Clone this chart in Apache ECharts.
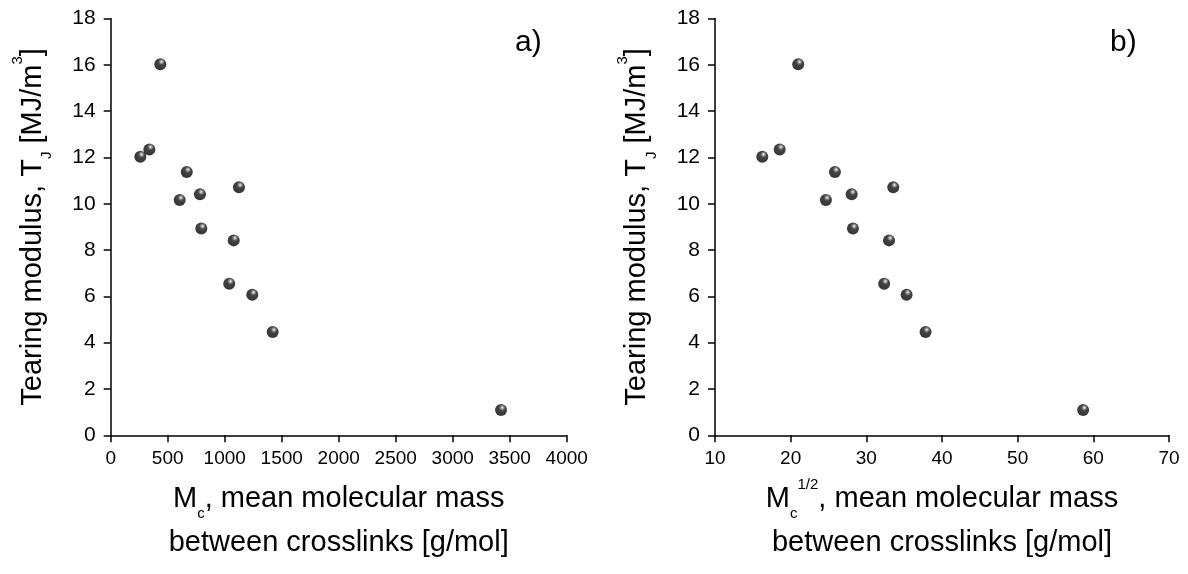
<!DOCTYPE html>
<html>
<head>
<meta charset="utf-8">
<script src="https://cdn.jsdelivr.net/npm/echarts@6/dist/echarts.min.js"></script>
<style>
html,body{margin:0;padding:0;background:#fff;}
#chart{width:1188px;height:574px;}
</style>
</head>
<body>
<div id="chart"></div>
<script>
// Panel a): Mc [g/mol] vs tearing modulus TJ [MJ/m3]
const mcValues = [260, 339, 435, 667, 605, 783, 795, 1125, 1079, 1040, 1242, 1421, 3424];
const tjValuesA = [12.03, 12.35, 16.03, 11.37, 10.16, 10.41, 8.93, 10.71, 8.42, 6.55, 6.07, 4.46, 1.09];
// Panel b): Mc^(1/2) vs tearing modulus
const mcSqrtValues = [16.25, 18.55, 21.0, 25.85, 24.66, 28.06, 28.23, 33.56, 33.0, 32.36, 35.32, 37.83, 58.65];
const tjValuesB = [12.03, 12.35, 16.03, 11.37, 10.16, 10.41, 8.93, 10.71, 8.42, 6.55, 6.07, 4.46, 1.09];

const xTicksA = {min: 0, max: 4000, interval: 500};
const xTicksB = {min: 10, max: 70, interval: 10};
const yTicks = {min: 0, max: 18, interval: 2};

const panelLabels = ['a)', 'b)'];
const yTitle = 'Tearing modulus, T{sub|J} [MJ/m{sup|3}]';
const xTitleA = 'M{sub|c}, mean molecular mass\nbetween crosslinks [g/mol]';
const xTitleB = 'M{sub|c}{sup|1/2}, mean molecular mass\nbetween crosslinks [g/mol]';

const FONT = '"Liberation Sans", Arial, sans-serif';
const titleSize = 29;

const richStyles = {
  sub: {fontSize: 15, fontFamily: FONT, color: '#000', verticalAlign: 'bottom', lineHeight: 44},
  sup: {fontSize: 15, fontFamily: FONT, color: '#000', verticalAlign: 'top', lineHeight: 44}
};

function makeData(xs, ys) {
  return xs.map((x, i) => [x, ys[i]]);
}

const axisCommon = {
  axisLine: {show: true, onZero: false, lineStyle: {color: '#000', width: 1.5}},
  axisTick: {show: true, inside: false, length: 7, lineStyle: {color: '#000', width: 1.5}},
  splitLine: {show: false},
  nameLocation: 'middle',
  nameTextStyle: {fontSize: titleSize, fontFamily: FONT, color: '#000', lineHeight: 44, rich: richStyles}
};

const sphere = {
  type: 'radial', x: 0.6, y: 0.3, r: 0.75,
  colorStops: [
    {offset: 0, color: '#ffffff'},
    {offset: 0.12, color: '#9a9a9a'},
    {offset: 0.35, color: '#151515'},
    {offset: 1, color: '#000'}
  ]
};

const plainLabel = v => String(v);

const chart = echarts.init(document.getElementById('chart'), null, {renderer: 'canvas'});
chart.setOption({
  animation: false,
  backgroundColor: '#fff',
  grid: [
    {left: 110.7, top: 18.6, width: 456, height: 416.7},
    {left: 715, top: 18.6, width: 454, height: 416.7}
  ],
  xAxis: [
    Object.assign({}, axisCommon, {
      gridIndex: 0, type: 'value', min: xTicksA.min, max: xTicksA.max, interval: xTicksA.interval,
      name: xTitleA, nameGap: 42,
      axisLabel: {fontSize: 19, fontFamily: FONT, color: '#000', margin: 14, formatter: plainLabel}
    }),
    Object.assign({}, axisCommon, {
      gridIndex: 1, type: 'value', min: xTicksB.min, max: xTicksB.max, interval: xTicksB.interval,
      name: xTitleB, nameGap: 42,
      axisLabel: {fontSize: 19, fontFamily: FONT, color: '#000', margin: 14, formatter: plainLabel}
    })
  ],
  yAxis: [
    Object.assign({}, axisCommon, {
      gridIndex: 0, type: 'value', min: yTicks.min, max: yTicks.max, interval: yTicks.interval,
      name: yTitle, nameGap: 56,
      axisLabel: {fontSize: 21, fontFamily: FONT, color: '#000', margin: 15, formatter: plainLabel}
    }),
    Object.assign({}, axisCommon, {
      gridIndex: 1, type: 'value', min: yTicks.min, max: yTicks.max, interval: yTicks.interval,
      name: yTitle, nameGap: 56,
      axisLabel: {fontSize: 21, fontFamily: FONT, color: '#000', margin: 15, formatter: plainLabel}
    })
  ],
  series: [
    {
      type: 'scatter', xAxisIndex: 0, yAxisIndex: 0,
      data: makeData(mcValues, tjValuesA),
      symbol: 'circle', symbolSize: 12,
      itemStyle: {color: sphere}
    },
    {
      type: 'scatter', xAxisIndex: 1, yAxisIndex: 1,
      data: makeData(mcSqrtValues, tjValuesB),
      symbol: 'circle', symbolSize: 12,
      itemStyle: {color: sphere}
    }
  ],
  graphic: [
    {type: 'text', left: 515, top: 28, style: {text: panelLabels[0], fontSize: 30, fontFamily: FONT, fill: '#000'}},
    {type: 'text', left: 1110, top: 28, style: {text: panelLabels[1], fontSize: 30, fontFamily: FONT, fill: '#000'}}
  ]
});
</script>
</body>
</html>
